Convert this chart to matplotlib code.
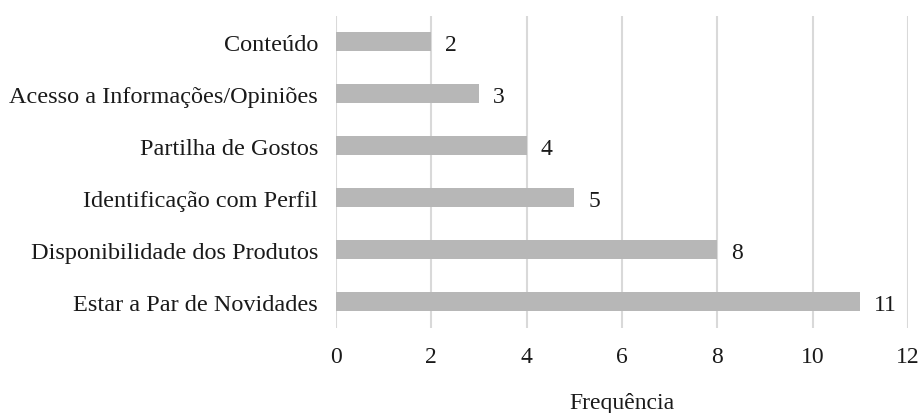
import matplotlib
matplotlib.use('Agg')
import matplotlib.pyplot as plt

categorias = ['Conteúdo', 'Acesso a Informações/Opiniões', 'Partilha de Gostos',
              'Identificação com Perfil', 'Disponibilidade dos Produtos',
              'Estar a Par de Novidades']
frequencia = [2, 3, 4, 5, 8, 11]
xticks = [0, 2, 4, 6, 8, 10, 12]

plt.rcParams['font.family'] = ['Liberation Serif', 'DejaVu Serif']

fig = plt.figure(figsize=(9.19, 4.14), dpi=100)
ax = fig.add_axes([0.3656, 0.2065, 0.6224, 0.7535])

pos = list(range(len(categorias)))[::-1]
bars = ax.barh(pos, frequencia, height=0.365, color='#b7b7b7', zorder=2)
for p, v in zip(pos, frequencia):
    ax.annotate(str(v), (v, p), xytext=(10, -2), textcoords='offset points',
                ha='left', va='center', fontsize=17, color='#1a1a1a')

ax.set_xlim(0, 12)
ax.set_ylim(-0.5, len(categorias) - 0.5)
ax.set_xticks(xticks)
ax.set_yticks(pos)
ax.set_yticklabels(categorias)
ax.tick_params(axis='y', length=0, pad=13, labelsize=17.5, labelcolor='#1a1a1a')
ax.tick_params(axis='x', length=0, pad=13, labelsize=17, labelcolor='#1a1a1a')
ax.grid(axis='x', color='#d9d9d9', linewidth=1.5, zorder=0)
for s in ax.spines.values():
    s.set_visible(False)

ax.set_xlabel('Frequência', fontsize=17, color='#1a1a1a', labelpad=18)

fig.savefig('out.png', dpi=100)
